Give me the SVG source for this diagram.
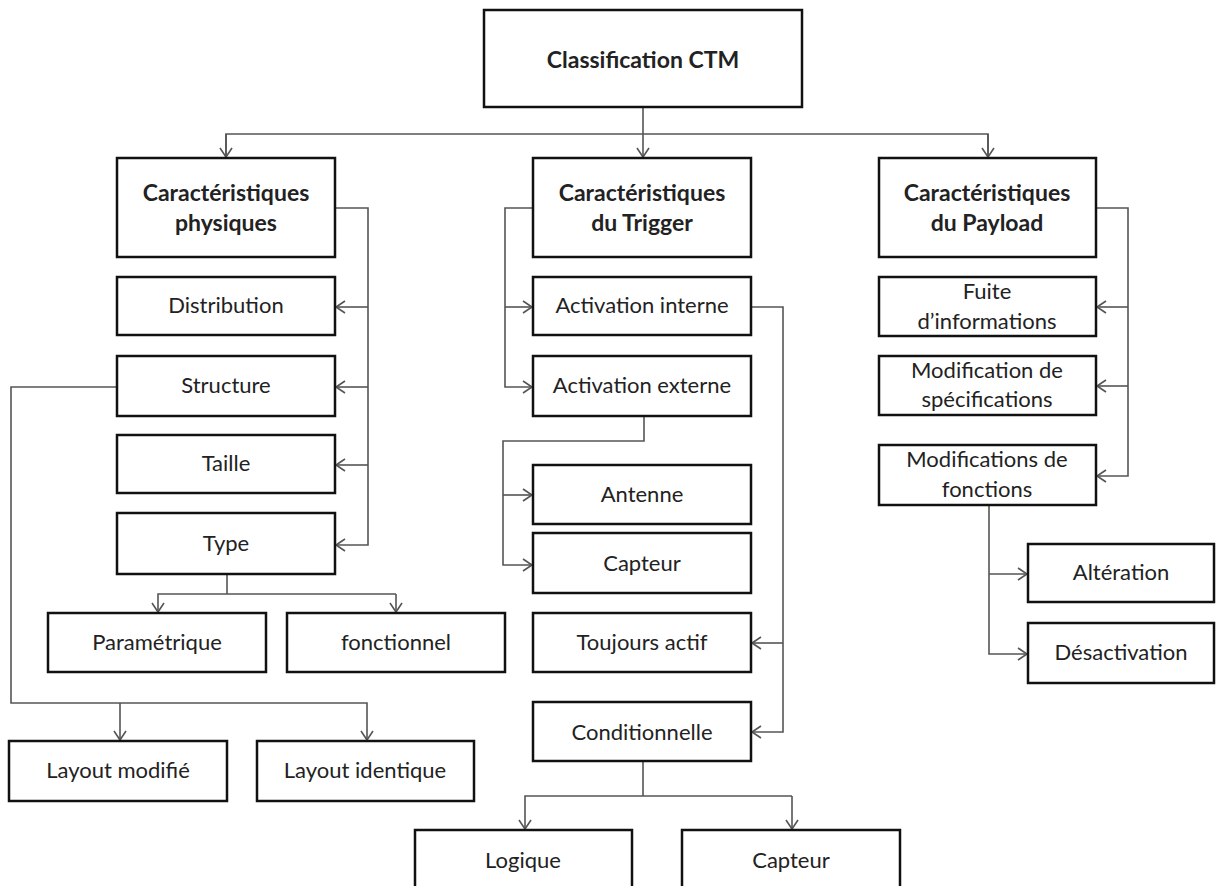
<svg xmlns="http://www.w3.org/2000/svg" width="1216" height="886" viewBox="0 0 1216 886">
<defs>
<style>
.box{fill:#fff;stroke:#111;stroke-width:2.5}
.t{font-family:Lato,"Open Sans","Liberation Sans",sans-serif;font-size:22px;fill:#222;text-anchor:middle}
.b{font-weight:bold;font-size:23px}
.c{fill:none;stroke:#555;stroke-width:1.6}
</style>
<marker id="ar" markerUnits="userSpaceOnUse" markerWidth="14" markerHeight="14" refX="10" refY="7" orient="auto">
<path d="M1,1 L10,7 L1,13" fill="none" stroke="#555" stroke-width="1.6"/>
</marker>
</defs>
<rect width="1216" height="886" fill="#fff"/>
<g id="connectors">
<path class="c" d="M643,107 V157" marker-end="url(#ar)"/>
<path class="c" d="M226,157 V134 H988 V157" />
<path class="c" d="M226,134 V157" marker-end="url(#ar)"/>
<path class="c" d="M988,134 V157" marker-end="url(#ar)"/>
<path class="c" d="M335,208 H368 V545 H336" marker-end="url(#ar)"/>
<path class="c" d="M368,307 H336" marker-end="url(#ar)"/>
<path class="c" d="M368,387 H336" marker-end="url(#ar)"/>
<path class="c" d="M368,465 H336" marker-end="url(#ar)"/>
<path class="c" d="M117,387 H11 V703 H367 V740" marker-end="url(#ar)"/>
<path class="c" d="M120,703 V740" marker-end="url(#ar)"/>
<path class="c" d="M227,574 V594"/>
<path class="c" d="M396,594 H158 V612" marker-end="url(#ar)"/>
<path class="c" d="M396,594 V612" marker-end="url(#ar)"/>
<path class="c" d="M533,208 H505 V387 H532" marker-end="url(#ar)"/>
<path class="c" d="M505,307 H532" marker-end="url(#ar)"/>
<path class="c" d="M644,416 V441 H503 V565 H532" marker-end="url(#ar)"/>
<path class="c" d="M503,495 H532" marker-end="url(#ar)"/>
<path class="c" d="M751,307 H783 V732 H752" marker-end="url(#ar)"/>
<path class="c" d="M783,643 H752" marker-end="url(#ar)"/>
<path class="c" d="M643,761 V796"/>
<path class="c" d="M792,796 H525 V829" marker-end="url(#ar)"/>
<path class="c" d="M792,796 V829" marker-end="url(#ar)"/>
<path class="c" d="M1096,208 H1128 V476 H1097" marker-end="url(#ar)"/>
<path class="c" d="M1128,307 H1097" marker-end="url(#ar)"/>
<path class="c" d="M1128,386 H1097" marker-end="url(#ar)"/>
<path class="c" d="M989,505 V654 H1027" marker-end="url(#ar)"/>
<path class="c" d="M989,574 H1027" marker-end="url(#ar)"/>
</g>
<g id="ctm"><rect class="box" x="484" y="10" width="318" height="97"/><text class="t b" x="643" y="68">Classification CTM</text></g>
<g id="phys"><rect class="box" x="117" y="158" width="218" height="99"/><text class="t b" x="226" y="201">Caractéristiques</text><text class="t b" x="226" y="231">physiques</text></g>
<g id="trig"><rect class="box" x="533" y="158" width="218" height="99"/><text class="t b" x="642" y="201">Caractéristiques</text><text class="t b" x="642" y="231">du Trigger</text></g>
<g id="pay"><rect class="box" x="879" y="158" width="217" height="99"/><text class="t b" x="987" y="201">Caractéristiques</text><text class="t b" x="987" y="231">du Payload</text></g>
<g id="dist"><rect class="box" x="117" y="277" width="218" height="58"/><text class="t" x="226" y="313">Distribution</text></g>
<g id="struct"><rect class="box" x="117" y="356" width="218" height="60"/><text class="t" x="226" y="393">Structure</text></g>
<g id="taille"><rect class="box" x="117" y="435" width="218" height="58"/><text class="t" x="226" y="471">Taille</text></g>
<g id="type"><rect class="box" x="117" y="513" width="218" height="61"/><text class="t" x="226" y="551">Type</text></g>
<g id="param"><rect class="box" x="48" y="613" width="218" height="59"/><text class="t" x="157" y="650">Paramétrique</text></g>
<g id="fonc"><rect class="box" x="287" y="613" width="218" height="59"/><text class="t" x="396" y="650">fonctionnel</text></g>
<g id="lmod"><rect class="box" x="9" y="741" width="218" height="60"/><text class="t" x="118" y="778">Layout modifié</text></g>
<g id="lid"><rect class="box" x="257" y="741" width="217" height="60"/><text class="t" x="365" y="778">Layout identique</text></g>
<g id="actint"><rect class="box" x="533" y="277" width="218" height="58"/><text class="t" x="642" y="313">Activation interne</text></g>
<g id="actext"><rect class="box" x="533" y="356" width="218" height="60"/><text class="t" x="642" y="393">Activation externe</text></g>
<g id="antenne"><rect class="box" x="533" y="465" width="218" height="59"/><text class="t" x="642" y="502">Antenne</text></g>
<g id="capteur1"><rect class="box" x="533" y="533" width="218" height="60"/><text class="t" x="642" y="571">Capteur</text></g>
<g id="toujours"><rect class="box" x="533" y="613" width="218" height="59"/><text class="t" x="642" y="650">Toujours actif</text></g>
<g id="cond"><rect class="box" x="533" y="702" width="218" height="59"/><text class="t" x="642" y="740">Conditionnelle</text></g>
<g id="logique"><rect class="box" x="415" y="830" width="217" height="70"/><text class="t" x="523" y="868">Logique</text></g>
<g id="capteur2"><rect class="box" x="682" y="830" width="218" height="70"/><text class="t" x="791" y="868">Capteur</text></g>
<g id="fuite"><rect class="box" x="879" y="277" width="217" height="59"/><text class="t" x="987" y="299">Fuite</text><text class="t" x="987" y="329">d’informations</text></g>
<g id="modspec"><rect class="box" x="879" y="356" width="217" height="59"/><text class="t" x="987" y="378">Modification de</text><text class="t" x="987" y="407">spécifications</text></g>
<g id="modfonc"><rect class="box" x="879" y="445" width="217" height="60"/><text class="t" x="987" y="467">Modifications de</text><text class="t" x="987" y="497">fonctions</text></g>
<g id="alter"><rect class="box" x="1028" y="544" width="186" height="58"/><text class="t" x="1121" y="580">Altération</text></g>
<g id="desact"><rect class="box" x="1028" y="623" width="186" height="60"/><text class="t" x="1121" y="660">Désactivation</text></g>
</svg>
